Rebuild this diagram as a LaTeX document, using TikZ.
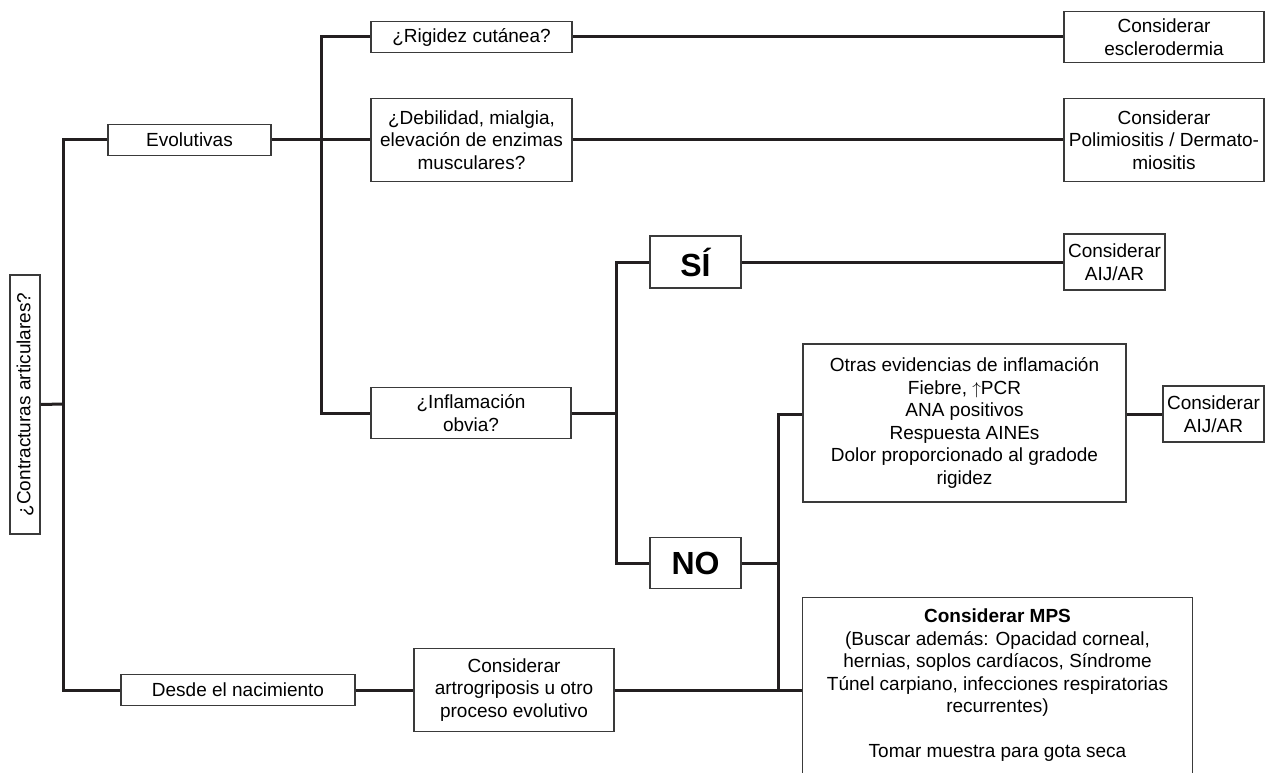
\documentclass[tikz,border=0pt]{standalone}
\usepackage{fontspec}
\setmainfont{Liberation Sans}
\usepackage{tikz}
\usetikzlibrary{positioning,calc}
\definecolor{ink}{HTML}{231F20}
\definecolor{rim}{HTML}{3A3A3A}

\begin{document}
\begin{tikzpicture}[x=1pt,y=-1pt,
  box/.style={draw=rim,line width=1.3pt,inner sep=0pt,align=center,
    font=\fontsize{19}{22.5}\selectfont},
  yesno/.style={box,font=\bfseries\fontsize{32}{36}\selectfont},
  wire/.style={draw=ink,line width=3pt}]
  \useasboundingbox (0,0) rectangle (1271,773);
  % first split
  \node[box,minimum width=259pt,minimum height=30pt,rotate=90] (contr) at (25,404.5) {¿Contracturas articulares?};
  \node[box,minimum width=163pt,minimum height=31pt] (evol) at (189.5,140) {Evolutivas};
  \node[box,minimum width=234pt,minimum height=31pt] (desde) at (238,690) {Desde el nacimiento};
  % evolutivas branch
  \node[box,minimum width=201pt,minimum height=31pt] (rig) at (471.5,37) {¿Rigidez cutánea?};
  \node[box,minimum width=201pt,minimum height=83pt] (deb) at (471.5,140) {¿Debilidad, mialgia,\\elevación de enzimas\\musculares?};
  \node[box,minimum width=200pt,minimum height=51pt] (infl) at (471,413) {¿Inflamación\\obvia?};
  \node[box,minimum width=200pt,minimum height=51pt] (escl) at (1164,37) {Considerar\\esclerodermia};
  \node[box,minimum width=200pt,minimum height=83pt] (poli) at (1164,140) {Considerar\\Polimiositis / Dermato-\\miositis};
  % inflamacion branch
  \node[yesno,minimum width=91pt,minimum height=52pt] (si) at (695.5,262) {SÍ};
  \node[yesno,minimum width=91pt,minimum height=51pt] (no) at (695.5,563) {NO};
  \node[box,minimum width=101pt,minimum height=56pt] (aij1) at (1114.5,262) {Considerar\\AIJ/AR};
  \node[box,minimum width=323pt,minimum height=158pt] (otras) at (964.5,423) {Otras evidencias de inflamación\\Fiebre, $\uparrow$PCR\\ANA positivos\\Respuesta AINEs\\Dolor proporcionado al gradode\\rigidez};
  \node[box,minimum width=101pt,minimum height=56pt] (aij2) at (1213.5,414) {Considerar\\AIJ/AR};
  % nacimiento branch
  \node[box,minimum width=200pt,minimum height=83pt] (artro) at (514,690) {Considerar\\artrogriposis u otro\\proceso evolutivo};
  \node[box,draw=none,minimum width=389pt,minimum height=175pt] (mps) at (997.5,685.5) {\textbf{Considerar MPS}\\(Buscar además: Opacidad corneal,\\hernias, soplos cardíacos, Síndrome\\Túnel carpiano, infecciones respiratorias\\recurrentes)\\[22.5pt]Tomar muestra para gota seca};
  \draw[draw=rim,line width=1.3pt] (mps.south west) |- (mps.north east) -- (mps.south east);
  % junctions
  \coordinate (s0) at (63,404);
  \coordinate (s1) at (321,140);
  \coordinate (s2) at (616,413);
  \coordinate (s3) at (778,563);
  % connectors
  \draw[wire] (contr.south) -- (s0);
  \draw[wire] (evol.west) -| (s0) |- (desde.west);
  \draw[wire] (evol.east) -- (deb.west);
  \draw[wire] (rig.west) -| (s1) |- (infl.west);
  \draw[wire] (rig.east) -- (escl.west);
  \draw[wire] (deb.east) -- (poli.west);
  \draw[wire] (infl.east) -- (s2);
  \draw[wire] (si.west) -| (s2) |- (no.west);
  \draw[wire] (si.east) -- (aij1.west);
  \draw[wire] (no.east) -- (s3);
  \draw[wire] (otras.west |- aij2.west) -| (s3) |- (mps.west |- artro.east);
  \draw[wire] (desde.east) -- (artro.west);
  \draw[wire] (artro.east) -- (mps.west |- artro.east);
  \draw[wire] (otras.east |- aij2.west) -- (aij2.west);
\end{tikzpicture}
\end{document}
